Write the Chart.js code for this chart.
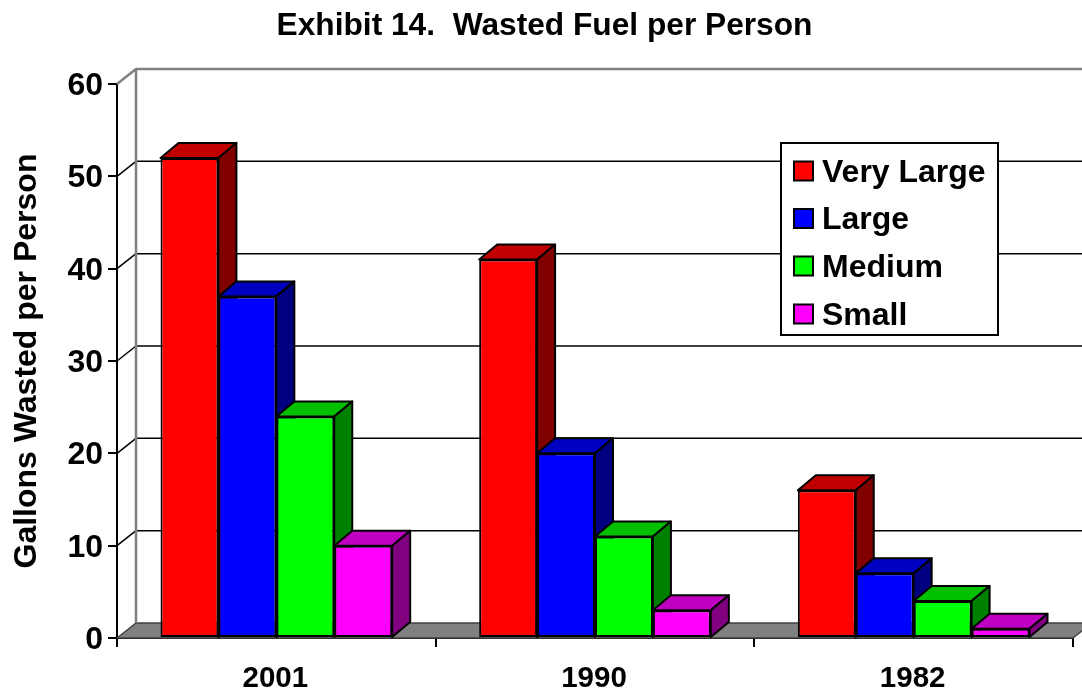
<!DOCTYPE html>
<html>
<head>
<meta charset="utf-8">
<title>Exhibit 14</title>
<script src="https://cdn.jsdelivr.net/npm/chart.js@4"></script>
<style>
  html, body { margin: 0; padding: 0; background: #fff; }
  canvas { display: block; }
</style>
</head>
<body>
<canvas id="chart" width="1082" height="690"></canvas>
<script>
const categories = ['2001', '1990', '1982'];
const seriesNames = ['Very Large', 'Large', 'Medium', 'Small'];
const veryLarge = [52, 41, 16];
const large = [37, 20, 7];
const medium = [24, 11, 4];
const small = [10, 3, 1];

const frontColors = ['#ff0000', '#0000ff', '#00ff00', '#ff00ff'];
const topColors = ['#c00000', '#0000c0', '#00c000', '#c000c0'];
const sideColors = ['#800000', '#000080', '#008000', '#800080'];

const FONT = '"Liberation Sans", Arial, sans-serif';
const depthX = 19;
const depthY = 15;

function poly(ctx, pts, fill, stroke, lw) {
    ctx.beginPath();
    pts.forEach((p, i) => i ? ctx.lineTo(p[0], p[1]) : ctx.moveTo(p[0], p[1]));
    ctx.closePath();
    if (fill) { ctx.fillStyle = fill; ctx.fill(); }
    if (stroke) { ctx.strokeStyle = stroke; ctx.lineWidth = lw; ctx.stroke(); }
}

// back wall, floor and the grid lines running round the left wall
const wallPlugin = {
    id: 'wall',
    beforeDatasetsDraw(chart) {
        const { ctx, chartArea: a, scales: { y } } = chart;
        const y0 = y.getPixelForValue(0);
        const yTop = y.getPixelForValue(60);
        ctx.save();
        ctx.lineJoin = 'round';
        poly(ctx, [[a.left, y0], [a.left + depthX, y0 - depthY], [a.right + depthX, y0 - depthY], [a.right, y0]], '#808080', '#404040', 1.5);
        y.ticks.forEach(t => {
            if (t.value === 0) return;
            const py = y.getPixelForValue(t.value);
            ctx.strokeStyle = t.value === 60 ? '#808080' : '#000';
            ctx.lineWidth = t.value === 60 ? 2.5 : 1.5;
            ctx.beginPath();
            ctx.moveTo(a.left, py);
            ctx.lineTo(a.left + depthX, py - depthY);
            ctx.lineTo(a.right + depthX, py - depthY);
            ctx.stroke();
        });
        ctx.strokeStyle = '#808080';
        ctx.lineWidth = 2.5;
        ctx.beginPath();
        ctx.moveTo(a.left + depthX, yTop - depthY);
        ctx.lineTo(a.left + depthX, y0 - depthY);
        ctx.stroke();

        // top and side faces of the bars, the front faces come from Chart.js
        categories.forEach((c, j) => {
            chart.data.datasets.forEach((ds, i) => {
                const b = chart.getDatasetMeta(i).data[j];
                const l = b.x - b.width / 2;
                const r = b.x + b.width / 2;
                const dx = depthX - 1;
                poly(ctx, [[l, b.y], [l + dx, b.y - depthY], [r + dx, b.y - depthY], [r, b.y]], topColors[i], '#000', 2);
                poly(ctx, [[r, b.y], [r + dx, b.y - depthY], [r + dx, b.base - depthY], [r, b.base]], sideColors[i], '#000', 2);
            });
        });
        ctx.restore();
    }
};

const legendPlugin = {
    id: 'boxLegend',
    afterDatasetsDraw(chart) {
        const { ctx } = chart;
        const rows = [171, 218.5, 266, 314];
        ctx.save();
        ctx.fillStyle = '#fff';
        ctx.fillRect(781, 143, 217, 192);
        ctx.strokeStyle = '#000';
        ctx.lineWidth = 2;
        ctx.strokeRect(781, 143, 217, 192);
        ctx.font = 'bold 32px ' + FONT;
        ctx.textBaseline = 'middle';
        seriesNames.forEach((name, i) => {
            ctx.fillStyle = frontColors[i];
            ctx.fillRect(794, rows[i] - 9.5, 19, 19);
            ctx.strokeRect(794, rows[i] - 9.5, 19, 19);
            ctx.fillStyle = '#000';
            ctx.fillText(name, 822, rows[i] + 2);
        });
        ctx.restore();
    }
};

new Chart(document.getElementById('chart'), {
    type: 'bar',
    data: {
        labels: categories,
        datasets: [veryLarge, large, medium, small].map((values, i) => ({
            label: seriesNames[i],
            data: values,
            backgroundColor: frontColors[i],
            borderColor: '#000',
            borderWidth: 2,
            borderSkipped: false,
            categoryPercentage: 0.727,
            barPercentage: 1
        }))
    },
    plugins: [wallPlugin, legendPlugin],
    options: {
        responsive: false,
        animation: false,
        layout: { padding: { left: 16, right: 9, top: 0, bottom: 0 } },
        plugins: {
            legend: { display: false },
            tooltip: { enabled: false },
            title: {
                display: true,
                text: 'Exhibit 14.  Wasted Fuel per Person',
                color: '#000',
                font: { family: FONT, size: 31.7, weight: 'bold', lineHeight: 1.2 },
                padding: { top: 7, bottom: 39 }
            }
        },
        scales: {
            x: {
                afterFit: s => { s.height = 52; },
                grid: { drawOnChartArea: false, color: '#000', lineWidth: 2, tickLength: 9, tickColor: '#000' },
                border: { color: '#000', width: 2 },
                ticks: { color: '#000', padding: 14, labelOffset: -1, maxRotation: 0, font: { family: FONT, size: 29.5, weight: 'bold' } }
            },
            y: {
                min: 0,
                max: 60,
                afterFit: s => { s.width = 101; },
                grid: { drawOnChartArea: false, color: '#000', lineWidth: 2, tickLength: 9, tickColor: '#000' },
                border: { color: '#000', width: 2 },
                ticks: { stepSize: 10, color: '#000', padding: 5, labelOffset: 2, font: { family: FONT, size: 32, weight: 'bold' } },
                title: {
                    display: true,
                    text: 'Gallons Wasted per Person',
                    color: '#000',
                    padding: { top: -8, bottom: 0 },
                    font: { family: FONT, size: 32, weight: 'bold', lineHeight: 1.2 }
                }
            }
        }
    }
});
</script>
</body>
</html>
